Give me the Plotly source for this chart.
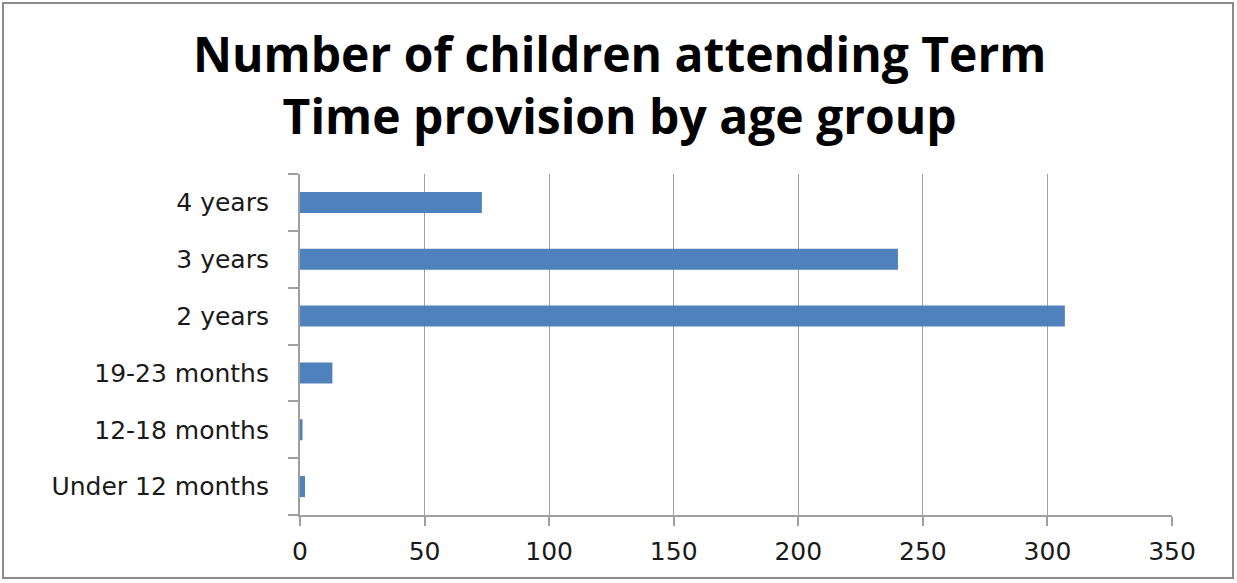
import plotly.graph_objects as go

BAR_COLOR = "#4F81BD"
GRID = "#A0A0A0"

age_groups = ["Under 12 months", "12-18 months", "19-23 months", "2 years", "3 years", "4 years"]
children = [2, 1, 13, 307, 240, 73]
x_ticks = [0, 50, 100, 150, 200, 250, 300, 350]
title_text = "Number of children attending Term<br>Time provision by age group"

W, H = 1237, 583
L, R, T, B = 300, 65, 174, 68
pw, ph = W - L - R, H - T - B


def px_x(p):
    # pixel -> paper x
    return (p - L) / pw


def px_y(p):
    # pixel (from top) -> paper y
    return (H - B - p) / ph


fig = go.Figure(go.Bar(
    x=children, y=age_groups, orientation="h",
    marker=dict(color=BAR_COLOR, line=dict(width=0)),
))

# grey frame round the whole chart
fig.add_shape(type="rect", xref="paper", yref="paper",
              x0=px_x(3), x1=px_x(1233), y0=px_y(578), y1=px_y(3),
              line=dict(color="#8C8C8C", width=2), layer="below")

fig.add_annotation(text=title_text, xref="paper", yref="paper",
                   x=px_x(619), y=px_y(84), xanchor="center", yanchor="middle",
                   showarrow=False, align="center",
                   font=dict(family="Open Sans", size=48, color="black", weight="bold"))

fig.update_layout(
    width=W, height=H,
    margin=dict(l=L, r=R, t=T, b=B, autoexpand=False),
    plot_bgcolor="white", paper_bgcolor="white",
    bargap=0.63,
    showlegend=False,
    font=dict(family="DejaVu Sans", color="#1a1a1a"),
)
fig.update_xaxes(range=[0, 350], tickvals=x_ticks, showgrid=True, gridcolor=GRID, gridwidth=1,
                 showline=True, linecolor=GRID, linewidth=2,
                 ticks="outside", ticklen=9, tickcolor=GRID, tickwidth=2,
                 ticklabelstandoff=4,
                 tickfont=dict(size=25, color="#1a1a1a"), zeroline=False, automargin=False)
fig.update_yaxes(showgrid=False, showline=True, linecolor=GRID, linewidth=2,
                 ticks="outside", tickson="boundaries", ticklen=10, tickcolor=GRID, tickwidth=2,
                 ticklabelstandoff=24,
                 tickfont=dict(size=25, color="#1a1a1a"), automargin=False)

fig.write_html("out.html", config={"displayModeBar": False},
               post_script="document.body.style.margin='0';")
